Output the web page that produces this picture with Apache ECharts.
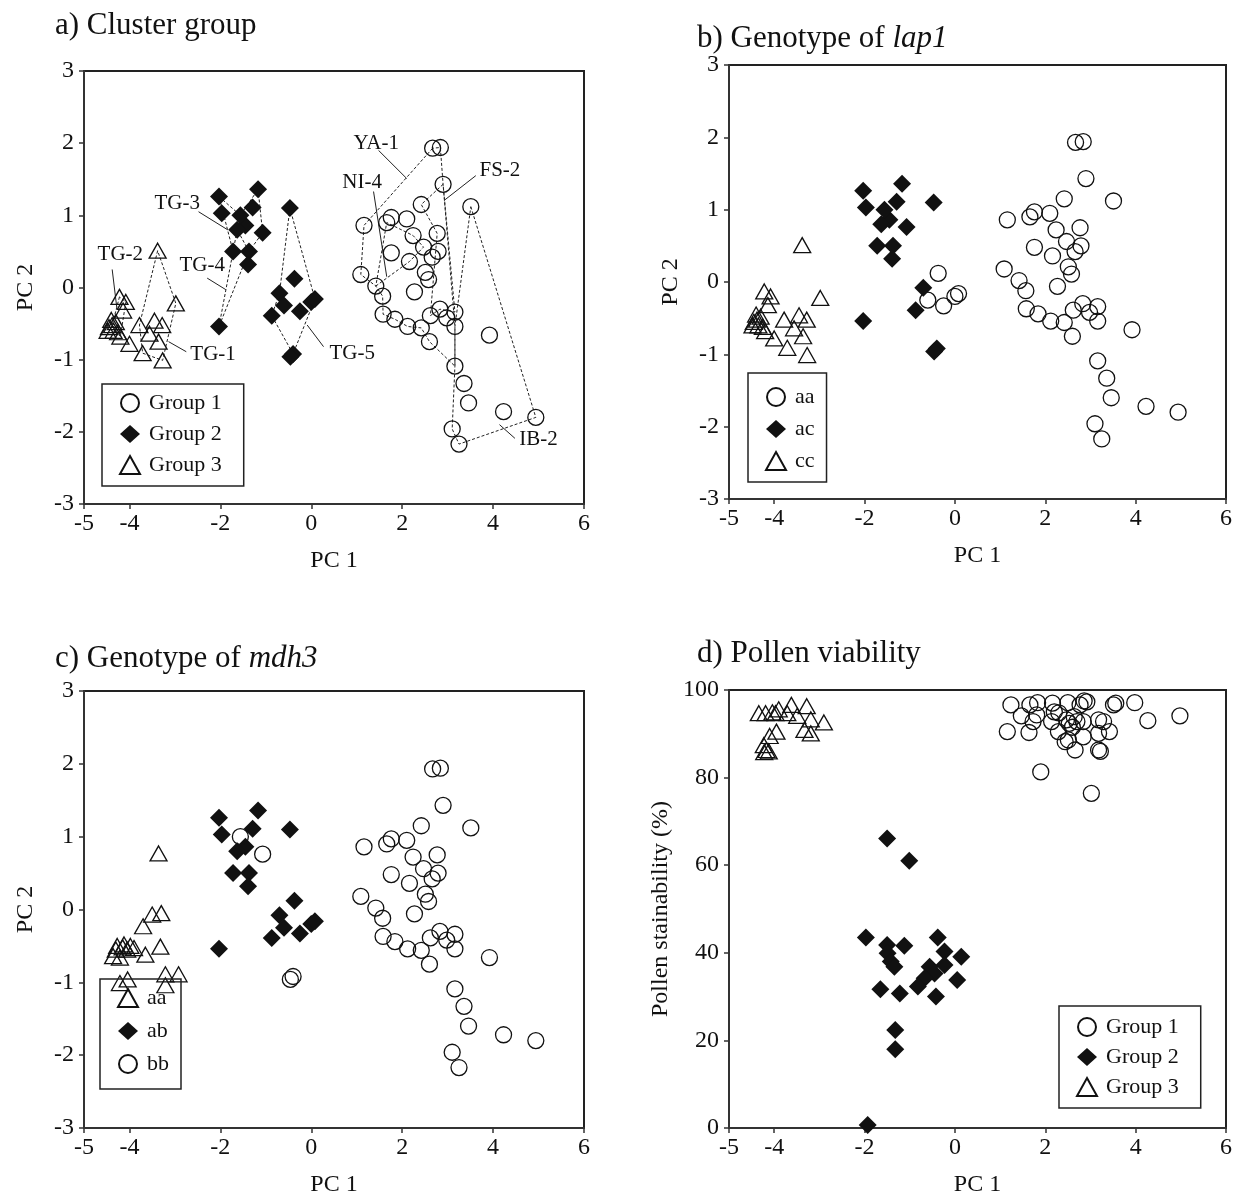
<!DOCTYPE html>
<html>
<head>
<meta charset="utf-8">
<script src="https://cdn.jsdelivr.net/npm/echarts@6/dist/echarts.min.js"></script>
<style>html,body{margin:0;padding:0;background:#fff}#main{width:1248px;height:1202px}</style>
</head>
<body>
<div id="main"></div>
<script>
// PC scores (PC1, PC2)
var group1 = [
  [2.67, 1.93], [2.84, 1.94], [2.90, 1.43], [2.42, 1.15], [3.51, 1.12], [1.16, 0.86], [1.66, 0.90], [1.76, 0.97],
  [2.10, 0.95], [2.24, 0.72], [2.77, 0.75], [2.47, 0.56], [2.79, 0.50], [2.66, 0.42], [1.76, 0.48], [2.16, 0.36],
  [2.51, 0.21], [2.58, 0.11], [1.09, 0.18], [1.42, 0.02], [1.57, -0.12], [2.27, -0.06], [1.58, -0.37], [1.84, -0.44],
  [2.12, -0.54], [2.42, -0.56], [2.62, -0.39], [2.83, -0.30], [2.98, -0.42], [3.16, -0.34], [3.16, -0.54], [2.60, -0.75],
  [3.92, -0.66], [3.16, -1.09], [3.36, -1.33], [3.46, -1.60], [4.23, -1.72], [4.94, -1.80], [3.10, -1.96], [3.25, -2.17]
];
// group 2 split by genotype (lap1 / mdh3)
var group2AcAb = [
  [-2.03, 1.26], [-1.17, 1.36], [-1.97, 1.03], [-1.29, 1.11], [-1.45, 0.86], [-1.63, 0.80], [-1.72, 0.50],
  [-1.37, 0.50], [-1.39, 0.32], [-0.47, 1.10], [-2.03, -0.54], [-0.70, -0.08], [-0.87, -0.39]
];
var group2AcBb = [[-1.56, 1.00], [-1.07, 0.76], [-0.40, -0.92], [-0.46, -0.96]];
var group2AaAb = [[-0.37, 0.12], [-0.60, -0.25], [-0.25, -0.33], [0.00, -0.20], [0.08, -0.16]];
var group3 = [
  [-3.38, 0.51], [-4.22, -0.13], [-4.08, -0.20], [-4.14, -0.32], [-2.98, -0.22], [-4.45, -0.55], [-4.35, -0.60],
  [-4.30, -0.48], [-4.40, -0.45], [-4.25, -0.62], [-3.78, -0.52], [-3.45, -0.46], [-3.28, -0.52], [-3.56, -0.64],
  [-4.00, -0.78], [-3.36, -0.75], [-3.71, -0.91], [-3.27, -1.01], [-4.38, -0.52], [-4.20, -0.68], [-4.48, -0.60]
];
// triangles of panel c (mdh3 aa)
var mdh3Aa = [
  [-3.36, 0.77], [-3.50, -0.07], [-3.30, -0.05], [-3.70, -0.23], [-3.32, -0.51], [-3.65, -0.62], [-4.27, -0.50],
  [-4.12, -0.48], [-3.98, -0.50], [-3.90, -0.53], [-4.36, -0.64], [-4.21, -0.66], [-4.05, -0.55], [-4.21, -1.01],
  [-4.04, -0.96], [-3.21, -0.89], [-2.92, -0.89], [-3.21, -1.04], [-4.30, -0.55], [-4.15, -0.52]
];
// PC1 vs pollen stainability (%)
var pollen1 = [
  [1.24, 96.6], [1.16, 90.5], [1.47, 94.1], [1.66, 96.6], [1.83, 97.1], [1.81, 94.3], [1.73, 92.8], [1.64, 90.3],
  [2.16, 97.0], [2.20, 95.0], [2.14, 92.8], [2.29, 90.5], [2.50, 97.1], [2.47, 93.2], [2.51, 88.6], [2.66, 86.3],
  [2.64, 93.9], [2.70, 92.8], [2.77, 96.6], [2.92, 97.3], [2.84, 92.8], [2.84, 89.3], [3.18, 93.2], [3.29, 92.8],
  [3.42, 90.5], [3.18, 90.1], [3.18, 86.3], [3.22, 86.0], [3.51, 96.6], [3.56, 97.0], [3.98, 97.1], [4.27, 93.0],
  [4.98, 94.1], [1.90, 81.3], [3.02, 76.4], [2.53, 92.4], [2.44, 88.2], [2.30, 94.8], [2.86, 97.5], [2.60, 91.5]
];
var pollen2 = [
  [-1.50, 66.1], [-1.01, 61.0], [-1.97, 43.5], [-1.50, 41.8], [-1.12, 41.6], [-0.38, 43.5], [-1.49, 39.9], [-0.23, 40.3],
  [0.14, 39.1], [-1.42, 38.0], [-1.34, 36.8], [-0.23, 37.2], [-0.56, 36.8], [-0.45, 35.3], [-0.67, 34.2], [0.05, 33.8],
  [-0.82, 32.3], [-1.65, 31.7], [-1.22, 30.7], [-0.42, 30.0], [-1.32, 22.4], [-1.32, 18.0], [-1.93, 0.7]
];
var pollen3 = [
  [-4.34, 94.7], [-4.19, 94.7], [-4.04, 94.9], [-3.90, 95.6], [-3.97, 94.7], [-3.62, 96.6], [-3.28, 96.3], [-3.71, 94.7],
  [-3.49, 94.1], [-3.19, 93.3], [-2.90, 92.6], [-3.33, 90.9], [-3.19, 90.1], [-3.95, 90.5], [-4.10, 89.5], [-4.23, 87.4],
  [-4.17, 86.3], [-4.22, 85.8], [-4.12, 86.0]
];
var pcTicks = [-5, -4, -2, 0, 2, 4, 6];

var group2 = group2AcAb.concat(group2AcBb, group2AaAb);

// dotted outlines in a), vertices as indices into a group
var outlines = [
  { pts: group1, idx: [0, 5, 18, 19, 20, 22, 23, 24, 25, 31, 33, 30, 2, 1, 0] }, // YA-1
  { pts: group1, idx: [2, 3, 10, 26, 27, 29, 2] },                               // FS-2
  { pts: group1, idx: [19, 15, 11, 9, 6, 19] },                                  // NI-4
  { pts: group1, idx: [4, 37, 39, 38, 33, 30, 4] },                              // IB-2
  { pts: group2, idx: [9, 11, 12, 15, 21, 9] },                                  // TG-5
  { pts: group2, idx: [0, 13, 1, 14, 7, 6, 0] },                                 // TG-3
  { pts: group2, idx: [10, 6, 5, 7, 10] },                                       // TG-4
  { pts: group3, idx: [0, 10, 16, 17, 4, 0] },                                   // TG-1
  { pts: group3, idx: [1, 18, 19, 2, 1] }                                        // TG-2
];
// label text spot and leader line, in data units
var outlineLabels = [
  { name: 'YA-1', at: [1.43, 2.00], from: [1.48, 1.90], to: [2.10, 1.51] },
  { name: 'NI-4', at: [1.12, 1.45], from: [1.37, 1.33], to: [1.66, 0.15] },
  { name: 'FS-2', at: [4.15, 1.62], from: [3.62, 1.55], to: [2.93, 1.21] },
  { name: 'IB-2', at: [5.00, -2.11], from: [4.48, -2.09], to: [4.14, -1.90] },
  { name: 'TG-3', at: [-2.95, 1.16], from: [-2.48, 1.05], to: [-1.84, 0.80] },
  { name: 'TG-2', at: [-4.20, 0.46], from: [-4.38, 0.25], to: [-4.28, -0.27] },
  { name: 'TG-4', at: [-2.40, 0.30], from: [-2.29, 0.13], to: [-1.88, -0.03] },
  { name: 'TG-1', at: [-2.16, -0.93], from: [-2.75, -0.89], to: [-3.14, -0.75] },
  { name: 'TG-5', at: [0.90, -0.92], from: [0.27, -0.82], to: [-0.09, -0.52] }
];

var FONT = '"Liberation Serif", "Times New Roman", serif';
var INK = '#111';
var sizes = { circle: 16, diamond: 18, triangle: [17, 15] };

function scat(name, g, data, symbol, filled) {
  return {
    type: 'scatter', name: name, xAxisIndex: g, yAxisIndex: g, data: data,
    symbol: symbol, symbolSize: sizes[symbol], z: 3, silent: true,
    itemStyle: filled ? { color: INK, opacity: 1 } :
      { color: 'rgba(0,0,0,0)', borderColor: INK, borderWidth: 1.3, opacity: 1 }
  };
}

var grids = [
  { left: 84, top: 71, width: 500, height: 433 },
  { left: 729, top: 65, width: 497, height: 434 },
  { left: 84, top: 691, width: 500, height: 437 },
  { left: 729, top: 690, width: 497, height: 438 }
];
grids.forEach(function (g) { g.show = true; g.borderColor = '#222'; g.borderWidth = 2; });

var axisLine = { show: true, onZero: false, lineStyle: { color: '#333', width: 2 } };
var lab = { color: INK, fontSize: 24, fontFamily: FONT };

var xAxes = grids.map(function (g, i) {
  return {
    type: 'value', gridIndex: i, min: -5, max: 6, name: 'PC 1',
    nameLocation: 'middle', nameGap: 45, nameTextStyle: lab,
    axisLine: axisLine, splitLine: { show: false },
    axisTick: { customValues: pcTicks, length: 5, lineStyle: { color: '#333', width: 1.5 } },
    axisLabel: Object.assign({ customValues: pcTicks, margin: 8 }, lab)
  };
});
var yAxes = grids.map(function (g, i) {
  var d = i === 3;
  return {
    type: 'value', gridIndex: i, min: d ? 0 : -3, max: d ? 100 : 3, interval: d ? 20 : 1,
    name: d ? 'Pollen stainability (%)' : 'PC 2',
    nameLocation: 'middle', nameGap: d ? 56 : 46, nameTextStyle: lab,
    axisLine: axisLine, splitLine: { show: false },
    axisTick: { length: 5, lineStyle: { color: '#333', width: 1.5 } },
    axisLabel: Object.assign({ margin: 10 }, lab)
  };
});

function legendAt(names, left, top, pad, gap) {
  return {
    data: names, left: left, top: top, orient: 'vertical', padding: pad, itemGap: gap,
    itemWidth: 20, itemHeight: 18, borderColor: '#222', borderWidth: 1.5,
    selectedMode: false,
    formatter: function (n) { return n.split('|')[1]; },
    textStyle: { color: INK, fontSize: 22, fontFamily: FONT, padding: [0, 0, 0, 4] }
  };
}

var series = [
  {
    type: 'lines', coordinateSystem: 'cartesian2d', xAxisIndex: 0, yAxisIndex: 0,
    polyline: true, silent: true, z: 1,
    lineStyle: { color: '#222', width: 1, type: [3, 2], opacity: 1 },
    data: outlines.map(function (o) { return { coords: o.idx.map(function (k) { return o.pts[k]; }) }; })
  },
  {
    type: 'lines', coordinateSystem: 'cartesian2d', xAxisIndex: 0, yAxisIndex: 0,
    silent: true, z: 1,
    lineStyle: { color: '#222', width: 1, opacity: 1 },
    data: outlineLabels.map(function (l) { return { coords: [l.from, l.to] }; })
  },
  {
    type: 'scatter', xAxisIndex: 0, yAxisIndex: 0, symbolSize: 1, silent: true, z: 4,
    itemStyle: { color: 'rgba(0,0,0,0)', opacity: 1 },
    label: { show: true, position: 'inside', formatter: '{b}', color: INK, fontSize: 21, fontFamily: FONT },
    data: outlineLabels.map(function (l) { return { name: l.name, value: l.at }; })
  },
  scat('a|Group 1', 0, group1, 'circle', false),
  scat('a|Group 2', 0, group2, 'diamond', true),
  scat('a|Group 3', 0, group3, 'triangle', false),
  scat('b|aa', 1, group1.concat(group2AaAb), 'circle', false),
  scat('b|ac', 1, group2AcAb.concat(group2AcBb), 'diamond', true),
  scat('b|cc', 1, group3, 'triangle', false),
  scat('c|aa', 2, mdh3Aa, 'triangle', false),
  scat('c|ab', 2, group2AcAb.concat(group2AaAb), 'diamond', true),
  scat('c|bb', 2, group1.concat(group2AcBb), 'circle', false),
  scat('d|Group 1', 3, pollen1, 'circle', false),
  scat('d|Group 2', 3, pollen2, 'diamond', true),
  scat('d|Group 3', 3, pollen3, 'triangle', false)
];

var titleStyle = { color: INK, fontSize: 31, fontWeight: 'normal', fontFamily: FONT,
  rich: { i: { fontStyle: 'italic', fontSize: 31, fontFamily: FONT, color: INK } } };

var myChart = echarts.init(document.getElementById('main'));
myChart.setOption({
  animation: false,
  backgroundColor: '#fff',
  title: [
    { text: 'a) Cluster group', left: 55, top: 10, padding: 0, textStyle: titleStyle },
    { text: 'b) Genotype of {i|lap1}', left: 697, top: 23, padding: 0, textStyle: titleStyle },
    { text: 'c) Genotype of {i|mdh3}', left: 55, top: 643, padding: 0, textStyle: titleStyle },
    { text: 'd) Pollen viability', left: 697, top: 638, padding: 0, textStyle: titleStyle }
  ],
  legend: [
    legendAt(['a|Group 1', 'a|Group 2', 'a|Group 3'], 102, 384, [8, 22, 10, 17], 9),
    legendAt(['b|aa', 'b|ac', 'b|cc'], 748, 373, [13, 12, 10, 17], 10),
    legendAt(['c|aa', 'c|ab', 'c|bb'], 100, 979, [8, 12, 14, 17], 11),
    legendAt(['d|Group 1', 'd|Group 2', 'd|Group 3'], 1059, 1006, [10, 22, 10, 17], 8)
  ],
  grid: grids,
  xAxis: xAxes,
  yAxis: yAxes,
  series: series
});
</script>
</body>
</html>
